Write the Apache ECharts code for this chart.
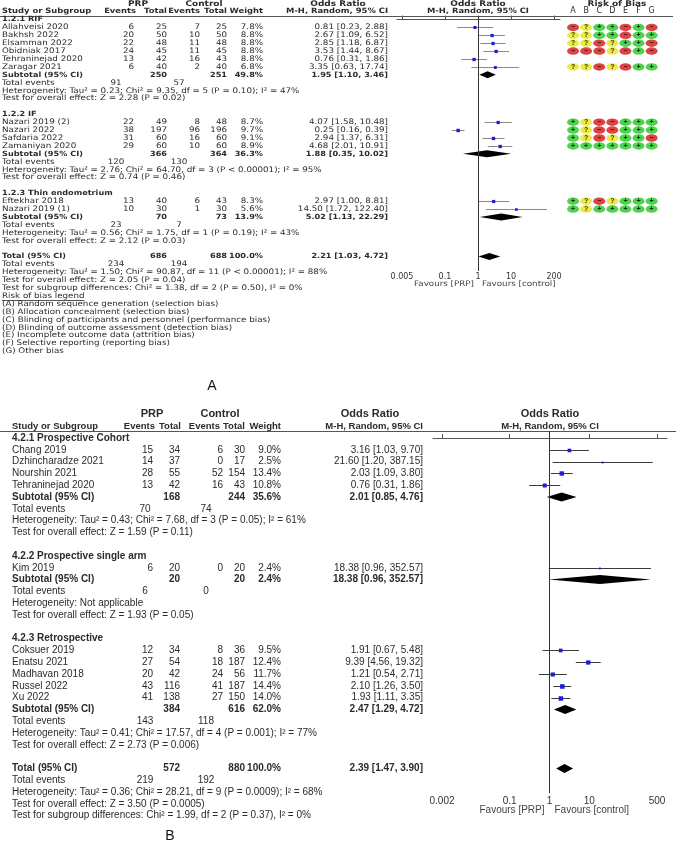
<!DOCTYPE html>
<html><head><meta charset="utf-8">
<script src="https://cdn.jsdelivr.net/npm/echarts@6/dist/echarts.min.js"></script>
<style>html,body{margin:0;padding:0;background:#fff}#c{width:676px;height:852px}</style>
</head><body><div id="c"></div>
<script>
// ================= Panel A data =================
const aGroups = ['1.2.1 RIF', '1.2.2 IF', '1.2.3 Thin endometrium'];
const aStudy = ['Allahveisi 2020','Bakhsh 2022','Elsamman 2022','Obidniak 2017','Tehraninejad 2020','Zaragar 2021',
  'Nazari 2019 (2)','Nazari 2022','Safdaria 2022','Zamaniyan 2020','Eftekhar 2018','Nazari 2019 (1)'];
const aGroupOf = [0,0,0,0,0,0,1,1,1,1,2,2];
const aPrpEvents = [6,20,22,24,13,6,22,38,31,29,13,10];
const aPrpTotal  = [25,50,48,45,42,40,49,197,60,60,40,30];
const aCtlEvents = [7,10,11,11,16,2,8,96,16,10,6,1];
const aCtlTotal  = [25,50,48,45,43,40,48,196,60,60,43,30];
const aWeight = [7.8,8.8,8.8,8.8,8.8,6.8,8.7,9.7,9.1,8.9,8.3,5.6];
const aOR = [0.81,2.67,2.85,3.53,0.76,3.35,4.07,0.25,2.94,4.68,2.97,14.50];
const aLo = [0.23,1.09,1.18,1.44,0.31,0.63,1.58,0.16,1.37,2.01,1.00,1.72];
const aHi = [2.88,6.52,6.87,8.67,1.86,17.74,10.48,0.39,6.31,10.91,8.81,122.40];
const aRob = ['-?++-+-','??++-++','??-?++-','---?-+-','','??-?-++','+?--+++','+?--+++','+?-?++-','+++++++','+?-?+++','+?+++++'];
const aSubPrpTotal = [250,366,70];
const aSubCtlTotal = [251,364,73];
const aSubWeight = [49.8,36.3,13.9];
const aSubOR = [1.95,1.88,5.02];
const aSubLo = [1.10,0.35,1.13];
const aSubHi = [3.46,10.02,22.29];
const aSubEvPrp = [91,120,23];
const aSubEvCtl = [57,130,7];
const aSubHet = ['Heterogeneity: Tau\u00b2 = 0.23; Chi\u00b2 = 9.35, df = 5 (P = 0.10); I\u00b2 = 47%',
  'Heterogeneity: Tau\u00b2 = 2.76; Chi\u00b2 = 64.70, df = 3 (P < 0.00001); I\u00b2 = 95%',
  'Heterogeneity: Tau\u00b2 = 0.56; Chi\u00b2 = 1.75, df = 1 (P = 0.19); I\u00b2 = 43%'];
const aSubTest = ['Test for overall effect: Z = 2.28 (P = 0.02)','Test for overall effect: Z = 0.74 (P = 0.46)','Test for overall effect: Z = 2.12 (P = 0.03)'];
const aTotPrp = 686, aTotCtl = 688, aTotWeight = 100.0, aTotOR = 2.21, aTotLo = 1.03, aTotHi = 4.72, aTotEvPrp = 234, aTotEvCtl = 194;
const aTotHet = 'Heterogeneity: Tau\u00b2 = 1.50; Chi\u00b2 = 90.87, df = 11 (P < 0.00001); I\u00b2 = 88%';
const aTotTest = 'Test for overall effect: Z = 2.05 (P = 0.04)';
const aSubgroupTest = 'Test for subgroup differences: Chi\u00b2 = 1.38, df = 2 (P = 0.50), I\u00b2 = 0%';
const aLegendTitle = 'Risk of bias legend';
const aLegend = ['(A) Random sequence generation (selection bias)','(B) Allocation concealment (selection bias)',
  '(C) Blinding of participants and personnel (performance bias)','(D) Blinding of outcome assessment (detection bias)',
  '(E) Incomplete outcome data (attrition bias)','(F) Selective reporting (reporting bias)','(G) Other bias'];
const robCols = ['A','B','C','D','E','F','G'];
const aTicks = [0.005, 0.1, 1, 10, 200];

// ================= Panel B data =================
const bGroups = ['4.2.1 Prospective Cohort','4.2.2 Prospective single arm','4.2.3 Retrospective'];
const bStudy = ['Chang 2019','Dzhincharadze 2021','Nourshin 2021','Tehraninejad 2020','Kim 2019',
  'Coksuer 2019','Enatsu 2021','Madhavan 2018','Russel 2022','Xu 2022'];
const bGroupOf = [0,0,0,0,1,2,2,2,2,2];
const bPrpEvents = [15,14,28,13,6,12,27,20,43,41];
const bPrpTotal  = [34,37,55,42,20,34,54,42,116,138];
const bCtlEvents = [6,0,52,16,0,8,18,24,41,27];
const bCtlTotal  = [30,17,154,43,20,36,187,56,187,150];
const bWeight = [9.0,2.5,13.4,10.8,2.4,9.5,12.4,11.7,14.4,14.0];
const bOR = [3.16,21.60,2.03,0.76,18.38,1.91,9.39,1.21,2.10,1.93];
const bLo = [1.03,1.20,1.09,0.31,0.96,0.67,4.56,0.54,1.26,1.11];
const bHi = [9.70,387.15,3.80,1.86,352.57,5.48,19.32,2.71,3.50,3.35];
const bSubPrpTotal = [168,20,384];
const bSubCtlTotal = [244,20,616];
const bSubWeight = [35.6,2.4,62.0];
const bSubOR = [2.01,18.38,2.47];
const bSubLo = [0.85,0.96,1.29];
const bSubHi = [4.76,352.57,4.72];
const bSubEvPrp = [70,6,143];
const bSubEvCtl = [74,0,118];
const bSubHet = ['Heterogeneity: Tau\u00b2 = 0.43; Chi\u00b2 = 7.68, df = 3 (P = 0.05); I\u00b2 = 61%',
  'Heterogeneity: Not applicable',
  'Heterogeneity: Tau\u00b2 = 0.41; Chi\u00b2 = 17.57, df = 4 (P = 0.001); I\u00b2 = 77%'];
const bSubTest = ['Test for overall effect: Z = 1.59 (P = 0.11)','Test for overall effect: Z = 1.93 (P = 0.05)','Test for overall effect: Z = 2.73 (P = 0.006)'];
const bTotPrp = 572, bTotCtl = 880, bTotWeight = 100.0, bTotOR = 2.39, bTotLo = 1.47, bTotHi = 3.90, bTotEvPrp = 219, bTotEvCtl = 192;
const bTotHet = 'Heterogeneity: Tau\u00b2 = 0.36; Chi\u00b2 = 28.21, df = 9 (P = 0.0009); I\u00b2 = 68%';
const bTotTest = 'Test for overall effect: Z = 3.50 (P = 0.0005)';
const bSubgroupTest = 'Test for subgroup differences: Chi\u00b2 = 1.99, df = 2 (P = 0.37), I\u00b2 = 0%';
const bTicks = [0.002, 0.1, 1, 10, 500];

// ================= layout =================
const LA = {row0:19.5, step:7.9, top:16, bottom:271, left:397, right:560, xmin:0.00353, xmax:303};
const LB = {row0:438, step:11.8, top:431, bottom:793, left:433, right:667, xmin:0.001188, xmax:891};
[LA, LB].forEach(L => { L.ymin = (L.top - L.row0)/L.step; L.ymax = (L.bottom - L.row0)/L.step; });

const FA = '"DejaVu Sans", sans-serif';
const FB = '"Liberation Sans", Arial, sans-serif';
const measureCtx = document.createElement('canvas').getContext('2d');
function measure(s, font){ measureCtx.font = font; return measureCtx.measureText(s).width; }
// panel A text in the reference is horizontally stretched; sx reproduces that
const fontA = {n:'7.6px ' + FA, b:'bold 7.1px ' + FA, hd:'bold 7.3px ' + FA, h1:'bold 7.8px ' + FA, size:7.6, sx:1.15};
const fontB = {n:'10px ' + FB, b:'bold 10px ' + FB, hd:'bold 9.5px ' + FB, h1:'bold 11px ' + FB, size:10, sx:1};
const colA = {name:2, ev1:134, ev1h:136, tot1:167, tot1h:167, ev2:200, ev2h:200, tot2:227, tot2h:227, wt:263, wth:263, or:388, tev1:116, tev2:179,
  h1prp:138, h1ctl:204, h1or1:338, h1or2:478, h1rob:617, mh2:478, fav:4, favDy:13};
const colB = {name:12, ev1:153, ev1h:155, tot1:180, tot1h:181, ev2:223, ev2h:220, tot2:245, tot2h:245, wt:281, wth:281, or:423, tev1:145, tev2:206,
  h1prp:152, h1ctl:220, h1or1:370, h1or2:550, h1rob:null, mh2:550, fav:5, favDy:17};

const fmtOR = (o,l,h) => o.toFixed(2) + ' [' + l.toFixed(2) + ', ' + h.toFixed(2) + ']';

// ---------- build row lists ----------
function buildRows(D) {
  const rows = [{k:'h1'}, {k:'h2'}];
  D.groups.forEach((g, gi) => {
    rows.push({k:'group', text:g});
    D.groupOf.forEach((go, i) => { if (go === gi) rows.push({k:'study', i:i}); });
    rows.push({k:'sub', g:gi});
    rows.push({k:'ev', a:D.subEvPrp[gi], b:D.subEvCtl[gi]});
    rows.push({k:'txt', text:D.subHet[gi]});
    rows.push({k:'txt', text:D.subTest[gi]});
    rows.push({k:'blank'});
  });
  rows.push({k:'total'});
  rows.push({k:'ev', a:D.totEvPrp, b:D.totEvCtl});
  rows.push({k:'txt', text:D.totHet});
  rows.push({k:'txt', text:D.totTest});
  rows.push({k:'txt', text:D.subgroupTest});
  if (D.legendTitle) {
    rows.push({k:'legendTitle', text:D.legendTitle});
    D.legend.forEach(s => rows.push({k:'txt', text:s}));
  }
  return rows;
}
const DA = {groups:aGroups, groupOf:aGroupOf, study:aStudy, pe:aPrpEvents, pt:aPrpTotal, ce:aCtlEvents, ct:aCtlTotal,
  w:aWeight, or:aOR, lo:aLo, hi:aHi, rob:aRob, subPt:aSubPrpTotal, subCt:aSubCtlTotal, subW:aSubWeight, subOr:aSubOR,
  subLo:aSubLo, subHi:aSubHi, subEvPrp:aSubEvPrp, subEvCtl:aSubEvCtl, subHet:aSubHet, subTest:aSubTest,
  totPt:aTotPrp, totCt:aTotCtl, totW:aTotWeight, totOr:aTotOR, totLo:aTotLo, totHi:aTotHi, totEvPrp:aTotEvPrp, totEvCtl:aTotEvCtl,
  totHet:aTotHet, totTest:aTotTest, subgroupTest:aSubgroupTest, legendTitle:aLegendTitle, legend:aLegend};
const DB = {groups:bGroups, groupOf:bGroupOf, study:bStudy, pe:bPrpEvents, pt:bPrpTotal, ce:bCtlEvents, ct:bCtlTotal,
  w:bWeight, or:bOR, lo:bLo, hi:bHi, rob:null, subPt:bSubPrpTotal, subCt:bSubCtlTotal, subW:bSubWeight, subOr:bSubOR,
  subLo:bSubLo, subHi:bSubHi, subEvPrp:bSubEvPrp, subEvCtl:bSubEvCtl, subHet:bSubHet, subTest:bSubTest,
  totPt:bTotPrp, totCt:bTotCtl, totW:bTotWeight, totOr:bTotOR, totLo:bTotLo, totHi:bTotHi, totEvPrp:bTotEvPrp, totEvCtl:bTotEvCtl,
  totHet:bTotHet, totTest:bTotTest, subgroupTest:bSubgroupTest, legendTitle:null, legend:[]};
const rowsA = buildRows(DA), rowsB = buildRows(DB);

function makeTextRender(rows, D, C, F) {
  function txt(x, y, s, align, font, fill) {
    return {type:'text', x:x, y:y, scaleX:F.sx, scaleY:1,
      style:{text:String(s), font:font, fill:fill || '#2b2b2b', align:align || 'left', verticalAlign:'middle'}};
  }
  return function(params, api) {
    const idx = params.dataIndex;
    const ch = [];
    if (idx >= rows.length) { // favours labels below axis
      const p = api.coord([1, api.value(1)]);
      ch.push(txt(p[0] - C.fav, p[1] + C.favDy, 'Favours [PRP]', 'right', F.n, '#444'));
      ch.push(txt(p[0] + C.fav, p[1] + C.favDy, 'Favours [control]', 'left', F.n, '#444'));
      return {type:'group', children:ch};
    }
    const r = rows[idx];
    const y = api.coord([1, api.value(1)])[1];
    switch (r.k) {
      case 'h1':
        ch.push(txt(C.h1prp, y, 'PRP', 'center', F.h1), txt(C.h1ctl, y, 'Control', 'center', F.h1),
          txt(C.h1or1, y, 'Odds Ratio', 'center', F.h1), txt(C.h1or2, y, 'Odds Ratio', 'center', F.h1));
        if (C.h1rob) ch.push(txt(C.h1rob, y, 'Risk of Bias', 'center', F.h1));
        break;
      case 'h2':
        ch.push(txt(C.name, y, 'Study or Subgroup', 'left', F.hd), txt(C.ev1h, y, 'Events', 'right', F.hd),
          txt(C.tot1h, y, 'Total', 'right', F.hd), txt(C.ev2h, y, 'Events', 'right', F.hd), txt(C.tot2h, y, 'Total', 'right', F.hd),
          txt(C.wth, y, 'Weight', 'right', F.hd), txt(C.or, y, 'M-H, Random, 95% CI', 'right', F.hd),
          txt(C.mh2, y, 'M-H, Random, 95% CI', 'center', F.hd));
        break;
      case 'group': ch.push(txt(C.name, y, r.text, 'left', F.b)); break;
      case 'study': {
        const i = r.i;
        ch.push(txt(C.name, y, D.study[i], 'left', F.n), txt(C.ev1, y, D.pe[i], 'right', F.n), txt(C.tot1, y, D.pt[i], 'right', F.n),
          txt(C.ev2, y, D.ce[i], 'right', F.n), txt(C.tot2, y, D.ct[i], 'right', F.n),
          txt(C.wt, y, D.w[i].toFixed(1) + '%', 'right', F.n), txt(C.or, y, fmtOR(D.or[i], D.lo[i], D.hi[i]), 'right', F.n));
        break; }
      case 'sub': {
        const g = r.g;
        ch.push(txt(C.name, y, 'Subtotal (95% CI)', 'left', F.b), txt(C.tot1, y, D.subPt[g], 'right', F.b),
          txt(C.tot2, y, D.subCt[g], 'right', F.b), txt(C.wt, y, D.subW[g].toFixed(1) + '%', 'right', F.b),
          txt(C.or, y, fmtOR(D.subOr[g], D.subLo[g], D.subHi[g]), 'right', F.b));
        break; }
      case 'total':
        ch.push(txt(C.name, y, 'Total (95% CI)', 'left', F.b), txt(C.tot1, y, D.totPt, 'right', F.b),
          txt(C.tot2, y, D.totCt, 'right', F.b), txt(C.wt, y, D.totW.toFixed(1) + '%', 'right', F.b),
          txt(C.or, y, fmtOR(D.totOr, D.totLo, D.totHi), 'right', F.b));
        break;
      case 'ev':
        ch.push(txt(C.name, y, 'Total events', 'left', F.n), txt(C.tev1, y, r.a, 'center', F.n), txt(C.tev2, y, r.b, 'center', F.n));
        break;
      case 'txt': ch.push(txt(C.name, y, r.text, 'left', F.n)); break;
      case 'legendTitle': {
        const w = measure(r.text, F.n) * F.sx;
        const yl = Math.round(y + 4) + 0.5;
        ch.push(txt(C.name, y, r.text, 'left', F.n));
        ch.push({type:'line', shape:{x1:C.name, y1:yl, x2:C.name + w, y2:yl}, style:{stroke:'#2b2b2b', lineWidth:0.8}});
        break; }
    }
    return {type:'group', children:ch};
  };
}

function forestData(rows, D) {
  const out = [];
  rows.forEach((r, k) => {
    const row = k - 2;
    if (r.k === 'study') out.push([D.or[r.i], row, D.lo[r.i], D.hi[r.i], D.w[r.i], 0]);
    else if (r.k === 'sub') out.push([D.subOr[r.g], row, D.subLo[r.g], D.subHi[r.g], 0, 1]);
    else if (r.k === 'total') out.push([D.totOr, row, D.totLo, D.totHi, 0, 1]);
  });
  return out;
}
function robData(rows, D) {
  const out = [];
  rows.forEach((r, k) => {
    if (r.k === 'study' && D.rob[r.i]) D.rob[r.i].split('').forEach((c, j) => out.push([j, k - 2, c]));
  });
  return out;
}
function makeForestRender(cfg) {
  return function(params, api) {
    const o = api.value(0), row = api.value(1), lo = api.value(2), hi = api.value(3), w = api.value(4), kind = api.value(5);
    const pl = api.coord([lo, row]), ph = api.coord([hi, row]), po = api.coord([o, row]);
    if (kind === 0) {
      const s = cfg.sq * Math.sqrt(w);
      const yy = Math.round(po[1]) + 0.5;
      return {type:'group', children:[
        {type:'line', shape:{x1:pl[0], y1:yy, x2:ph[0], y2:yy}, style:{stroke:cfg.ci, lineWidth:1}},
        {type:'rect', shape:{x:po[0] - s/2, y:yy - s/2, width:s, height:s}, style:{fill:'#1c1cd6'}}
      ]};
    }
    const h = cfg.dh / 2;
    return {type:'polygon', shape:{points:[[pl[0], po[1]], [po[0], po[1] - h], [ph[0], po[1]], [po[0], po[1] + h]]}, style:{fill:'#000'}};
  };
}

function xAxisCfg(L, ticks, gi, font) {
  return {type:'log', logBase:10, gridIndex:gi, min:L.xmin, max:L.xmax,
    axisLine:{show:true, lineStyle:{color:'#555', width:1}},
    axisTick:{show:true, inside:true, length:4, lineStyle:{color:'#555'}, customValues:ticks},
    axisLabel:{show:true, customValues:ticks, margin:font.margin, color:'#333', fontSize:font.size, fontFamily:font.family,
      formatter: v => String(+v.toPrecision(6))},
    splitLine:{show:false}, minorTick:{show:false}};
}

const favA = [[1, LA.ymax]], favB = [[1, LB.ymax]];
const textDataA = rowsA.map((r, k) => [1, k - 2]).concat(favA);
const textDataB = rowsB.map((r, k) => [1, k - 2]).concat(favB);
const robColor = {'+':'#22c822', '?':'#e6e61a', '-':'#d61414'};
const robSign = {'+':'+', '?':'?', '-':'\u2212'};

const option = {
  backgroundColor:'#fff',
  animation:false,
  grid:[
    {left:LA.left, top:LA.top, width:LA.right - LA.left, height:LA.bottom - LA.top},
    {left:LB.left, top:LB.top, width:LB.right - LB.left, height:LB.bottom - LB.top},
    {left:566.5, top:LA.top, width:91.7, height:LA.bottom - LA.top}
  ],
  xAxis:[
    xAxisCfg(LA, aTicks, 0, {size:8, family:FA, margin:2}),
    xAxisCfg(LB, bTicks, 1, {size:10, family:FB, margin:3}),
    {type:'category', gridIndex:2, data:robCols, position:'top', boundaryGap:true,
      axisLine:{show:false}, axisTick:{show:false}, splitLine:{show:false},
      axisLabel:{margin:1, color:'#2b2b2b', fontSize:8, fontFamily:FA}}
  ],
  yAxis:[
    {type:'value', gridIndex:0, inverse:true, min:LA.ymin, max:LA.ymax, show:false},
    {type:'value', gridIndex:1, inverse:true, min:LB.ymin, max:LB.ymax, show:false},
    {type:'value', gridIndex:2, inverse:true, min:LA.ymin, max:LA.ymax, show:false}
  ],
  series:[
    {type:'custom', xAxisIndex:0, yAxisIndex:0, clip:false, silent:true, data:textDataA,
      renderItem:makeTextRender(rowsA, DA, colA, fontA)},
    {type:'custom', xAxisIndex:1, yAxisIndex:1, clip:false, silent:true, data:textDataB,
      renderItem:makeTextRender(rowsB, DB, colB, fontB)},
    {type:'custom', xAxisIndex:0, yAxisIndex:0, clip:false, silent:true, data:forestData(rowsA, DA),
      renderItem:makeForestRender({sq:1.1, ci:'#8a8a8a', dh:7}),
      markLine:{symbol:'none', silent:true, label:{show:false}, lineStyle:{color:'#333', width:1, type:'solid'}, data:[{xAxis:1}]}},
    {type:'custom', xAxisIndex:1, yAxisIndex:1, clip:false, silent:true, data:forestData(rowsB, DB),
      renderItem:makeForestRender({sq:1.2, ci:'#3a3a3a', dh:9}),
      markLine:{symbol:'none', silent:true, label:{show:false}, lineStyle:{color:'#333', width:1, type:'solid'}, data:[{xAxis:1}]}},
    {type:'scatter', xAxisIndex:2, yAxisIndex:2, clip:false, silent:true, data:robData(rowsA, DA),
      symbol:'circle', symbolSize:[12, 7.5],
      itemStyle:{color: p => robColor[p.data[2]]},
      label:{show:true, position:'inside', formatter: p => robSign[p.data[2]], color:'#000', fontSize:7, fontWeight:'bold', fontFamily:FB}}
  ],
  graphic:[
    {type:'line', shape:{x1:0, y1:LA.top + 0.5, x2:673, y2:LA.top + 0.5}, style:{stroke:'#555', lineWidth:1}},
    {type:'line', shape:{x1:0, y1:LB.top + 0.5, x2:676, y2:LB.top + 0.5}, style:{stroke:'#555', lineWidth:1}},
    {type:'text', x:212, y:386, style:{text:'A', font:'14px ' + FB, fill:'#111', align:'center', verticalAlign:'middle'}},
    {type:'text', x:170, y:836, style:{text:'B', font:'14px ' + FB, fill:'#111', align:'center', verticalAlign:'middle'}}
  ]
};
const chart = echarts.init(document.getElementById('c'), null, {renderer:'canvas', width:676, height:852});
chart.setOption(option);
</script>
</body></html>
